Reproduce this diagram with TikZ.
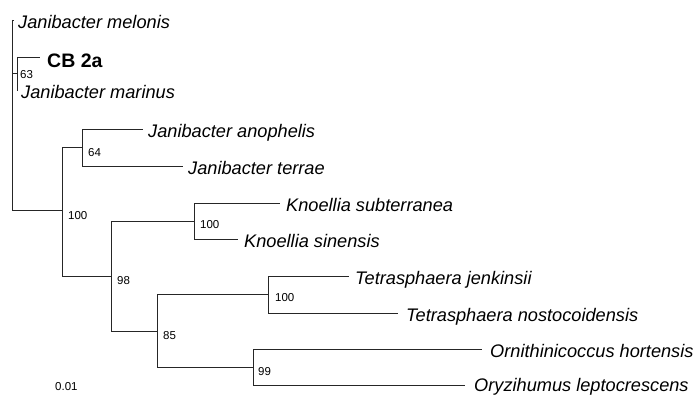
\documentclass[tikz,border=0pt]{standalone}
\usepackage{fontspec}
\setmainfont{Liberation Sans}
\begin{document}
\begin{tikzpicture}[x=1pt,y=-1pt,
  br/.style={draw=black!85,line width=0.9pt},
  leaf/.style={anchor=west,inner xsep=5pt,inner ysep=0pt,text height=17pt,text depth=0pt,
    font=\fontsize{18.2}{20}\selectfont\itshape},
  boot/.style={anchor=west,inner sep=0pt,font=\fontsize{11.5}{13}\selectfont}]
\useasboundingbox (0,0) rectangle (694,396);
% leaves
\node[leaf,inner xsep=4pt] (mel) at (14,20) {Janibacter melonis};
\node[leaf,text height=20pt,inner xsep=7pt,font=\fontsize{19.5}{22}\selectfont\bfseries] (cb) at (40,57) {CB 2a};
\node[leaf,inner xsep=3pt] (mar) at (18,90) {Janibacter marinus};
\node[leaf] (ano) at (143,129) {Janibacter anophelis};
\node[leaf] (ter) at (183,166) {Janibacter terrae};
\node[leaf,inner xsep=6pt] (sub) at (280,203) {Knoellia subterranea};
\node[leaf,inner xsep=6pt] (sin) at (238,239) {Knoellia sinensis};
\node[leaf,inner xsep=6pt] (jen) at (349,276) {Tetrasphaera jenkinsii};
\node[leaf,inner xsep=8pt] (nos) at (398,313) {Tetrasphaera nostocoidensis};
\node[leaf,inner xsep=8pt] (hor) at (482,349) {Ornithinicoccus hortensis};
\node[leaf,inner xsep=9pt,text height=13.5pt] (ory) at (465,385) {Oryzihumus leptocrescens};
% internal nodes
\coordinate (root) at (12,20);
\coordinate (n63) at (17,73);
\coordinate (nA) at (62,210);
\coordinate (n64) at (82,147);
\coordinate (n98) at (111,276);
\coordinate (nK) at (194,221);
\coordinate (n85) at (157,331);
\coordinate (nT) at (268,294);
\coordinate (n99) at (253,367);
% branches
\draw[br] (root |- mel.west) -- (root |- nA);
\draw[br] (root |- mel.west) -- (mel.west);
\draw[br] (root |- n63) -- (n63);
\draw[br] (root |- nA) -- (nA);
\draw[br] (n63 |- cb.west) -- (n63 |- mar.west);
\draw[br] (n63 |- cb.west) -- (cb.west);
\draw[br] (n63 |- mar.west) -- (mar.west);
\draw[br] (nA |- n64) -- (nA |- n98);
\draw[br] (nA |- n64) -- (n64);
\draw[br] (nA |- n98) -- (n98);
\draw[br] (n64 |- ano.west) -- (n64 |- ter.west);
\draw[br] (n64 |- ano.west) -- (ano.west);
\draw[br] (n64 |- ter.west) -- (ter.west);
\draw[br] (n98 |- nK) -- (n98 |- n85);
\draw[br] (n98 |- nK) -- (nK);
\draw[br] (n98 |- n85) -- (n85);
\draw[br] (nK |- sub.west) -- (nK |- sin.west);
\draw[br] (nK |- sub.west) -- (sub.west);
\draw[br] (nK |- sin.west) -- (sin.west);
\draw[br] (n85 |- nT) -- (n85 |- n99);
\draw[br] (n85 |- nT) -- (nT);
\draw[br] (n85 |- n99) -- (n99);
\draw[br] (nT |- jen.west) -- (nT |- nos.west);
\draw[br] (nT |- jen.west) -- (jen.west);
\draw[br] (nT |- nos.west) -- (nos.west);
\draw[br] (n99 |- hor.west) -- (n99 |- ory.west);
\draw[br] (n99 |- hor.west) -- (hor.west);
\draw[br] (n99 |- ory.west) -- (ory.west);
% bootstrap values
\node[boot] (b63) at ([shift={(3,2)}]n63) {63};
\node[boot] (b64) at ([shift={(6,5.5)}]n64) {64};
\node[boot] (bA) at ([shift={(6,5.5)}]nA) {100};
\node[boot] (b98) at ([shift={(6,5)}]n98) {98};
\node[boot] (bK) at ([shift={(6,4)}]nK) {100};
\node[boot] (b85) at ([shift={(6,5)}]n85) {85};
\node[boot] (bT) at ([shift={(7,4)}]nT) {100};
\node[boot] (b99) at ([shift={(5,5)}]n99) {99};
\node[boot] (scale) at (55,387) {0.01};
\end{tikzpicture}
\end{document}
